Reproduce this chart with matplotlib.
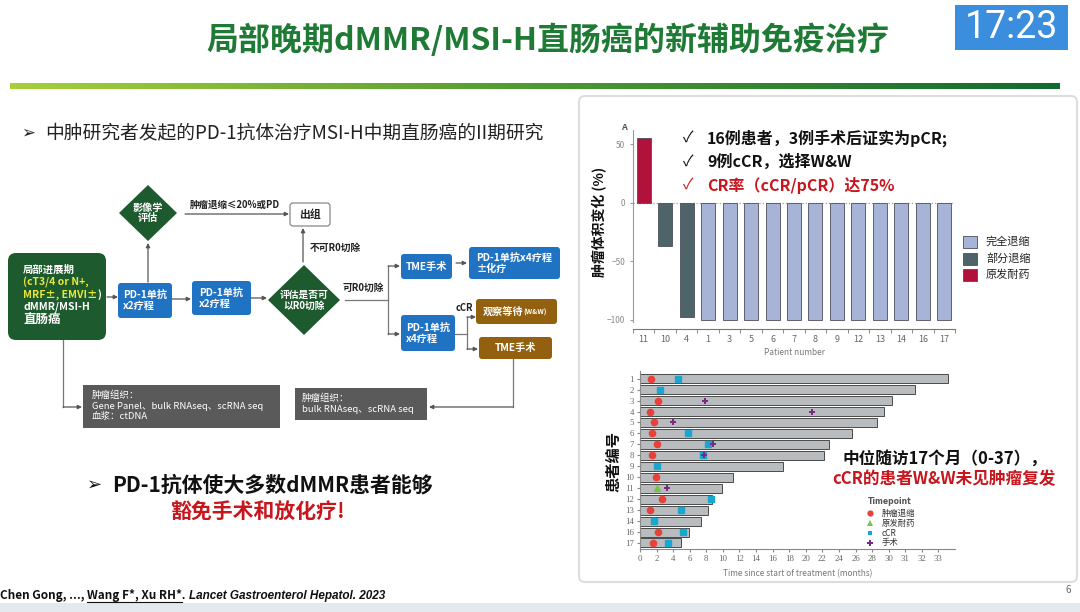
import numpy as np
import matplotlib
matplotlib.use('Agg')
import matplotlib.pyplot as plt
from matplotlib.patches import FancyBboxPatch, Polygon, Rectangle
from matplotlib.colors import LinearSegmentedColormap

plt.rcParams['font.family'] = ['Noto Sans CJK SC', 'DejaVu Sans']

# waterfall data (tumour volume change, %)
wf_patients = ['11', '10', '4', '1', '3', '5', '6', '7', '8', '9', '12', '13', '14', '16', '17']
wf_change = [55, -37, -98, -100, -100, -100, -100, -100, -100, -100, -100, -100, -100, -100, -100]
wf_group = ['原发耐药', '部分退缩', '部分退缩'] + ['完全退缩'] * 12
wf_legend = ['完全退缩', '部分退缩', '原发耐药']

# swimmer data (months)
sw_patients = ['1', '2', '3', '4', '5', '6', '7', '8', '9', '10', '11', '12', '13', '14', '16', '17']
sw_months = [33.6, 31.6, 30.2, 29.4, 28.6, 25.6, 22.8, 22.2, 17.2, 11.2, 9.9, 8.7, 8.2, 7.3, 5.9, 4.9]
shrink_patient = ['1', '3', '4', '5', '6', '7', '8', '10', '12', '13', '16', '17']
shrink_month = [1.3, 2.2, 1.2, 1.7, 1.5, 2.0, 1.4, 1.9, 2.7, 1.2, 2.2, 1.6]
resist_patient = ['11']
resist_month = [2.1]
ccr_patient = ['1', '2', '6', '7', '8', '9', '12', '13', '14', '16', '17']
ccr_month = [4.6, 2.4, 5.8, 8.2, 7.6, 2.1, 8.6, 5.0, 1.7, 5.2, 3.4]
surg_patient = ['3', '4', '5', '7', '8', '11']
surg_month = [7.8, 20.8, 4.0, 8.8, 7.7, 3.2]
sw_ticks = [0, 2, 4, 6, 8, 10, 12, 14, 16, 18, 20, 22, 24, 26, 28, 30, 31, 32, 33]

W, H = 1080, 612
fig = plt.figure(figsize=(10.8, 6.12), dpi=100)
ax = fig.add_axes([0, 0, 1, 1])

# gradient rule under the title
cmap = LinearSegmentedColormap.from_list('g', ['#A8CF3A', '#4E9A32', '#116B2E'])
ax.imshow(np.linspace(0, 1, 256)[None, :], cmap=cmap, extent=(10, 1060, 89, 83), aspect='auto')
ax.set_xlim(0, W)
ax.set_ylim(H, 0)
ax.axis('off')


def fpos(x0, y0, x1, y1):
    return [x0 / W, 1 - y1 / H, (x1 - x0) / W, (y1 - y0) / H]


def box(x0, y0, x1, y1, fc, ec=None, r=4, lw=0):
    ax.add_patch(FancyBboxPatch((x0, y0), x1 - x0, y1 - y0,
                                boxstyle='round,pad=0,rounding_size=%s' % r,
                                fc=fc, ec=ec if ec else fc, lw=lw))


def arrow(x0, y0, x1, y1):
    ax.annotate('', xy=(x1, y1), xytext=(x0, y0),
                arrowprops=dict(arrowstyle='-|>', color='#555555', lw=0.9,
                                mutation_scale=6, shrinkA=0, shrinkB=0))


def line(xs, ys):
    ax.plot(xs, ys, color='#777777', lw=0.9)


def chain(x, y, pieces, **kw):
    # place text pieces one after another on a line
    r = fig.canvas.get_renderer()
    for s, style in pieces:
        opts = dict(kw)
        opts.update(style)
        t = ax.text(x, y, s, va='center', ha='left', **opts)
        x += t.get_window_extent(r).width
    return x


# title
ax.text(548, 40, '局部晚期dMMR/MSI-H直肠癌的新辅助免疫治疗', fontsize=23, fontweight='bold',
        color='#1E7A35', ha='center', va='center')
ax.add_patch(Rectangle((955, 5), 113, 45, fc='#3A8EDD', ec='none'))
ax.text(1012, 28, '17:23', fontsize=27, color='white', ha='center', va='center',
        family=['Roboto', 'DejaVu Sans'])

# right panel
box(579, 96, 1077, 582, fc='white', ec='#DDDDDD', r=6, lw=1.5)

# left bullet
ax.text(21, 133, '➢', fontsize=12, color='#222222', va='center', family=['DejaVu Sans'])
ax.text(45, 133, '中肿研究者发起的PD-1抗体治疗MSI-H中期直肠癌的II期研究', fontsize=13.5,
        color='#222222', va='center')

# flowchart
GREEN, BLUE, BROWN, GRAY = '#1D5A2E', '#1F73C2', '#93600F', '#5A5A5A'
box(8, 253, 106, 340, GREEN, r=8)
ax.text(23, 270, '局部进展期', fontsize=7.5, color='white', fontweight='bold', va='center')
ax.text(23, 282, '(cT3/4 or N+,', fontsize=7.5, color='#E8E83A', fontweight='bold', va='center')
chain(23, 295, [('MRF±, EMVI±', dict(color='#E8E83A')), (')', dict(color='white'))],
      fontsize=7.5, fontweight='bold')
ax.text(23, 307, 'dMMR/MSI-H', fontsize=7.5, color='white', fontweight='bold', va='center')
ax.text(23, 320, '直肠癌', fontsize=9, color='white', fontweight='bold', va='center')

box(118, 283, 172, 318, BLUE, r=3)
ax.text(145, 300, 'PD-1单抗\nx2疗程', fontsize=7.3, color='white', fontweight='bold',
        ha='center', va='center', multialignment='left', linespacing=1.15)
box(192, 281, 251, 315, BLUE, r=3)
ax.text(221, 298, 'PD-1单抗\nx2疗程', fontsize=7.3, color='white', fontweight='bold',
        ha='center', va='center', multialignment='left', linespacing=1.15)
arrow(107, 297, 118, 297)
arrow(172, 299, 191, 299)
arrow(251, 298, 267, 298)

ax.add_patch(Polygon([(148, 185), (177, 213), (148, 241), (119, 213)], fc=GREEN, ec='none'))
ax.text(148, 213, '影像学\n评估', fontsize=7.3, color='white', fontweight='bold',
        ha='center', va='center', linespacing=1.1)
arrow(148, 282, 148, 243)
arrow(185, 214, 289, 214)
ax.text(190, 205, '肿瘤退缩≤20%或PD', fontsize=6.8, fontweight='bold', color='#222222', va='center')
box(290, 203, 330, 226, 'white', ec='#888888', r=3, lw=0.9)
ax.text(310, 214.5, '出组', fontsize=7.8, fontweight='bold', color='#222222', ha='center', va='center')

ax.add_patch(Polygon([(304, 265), (340, 300), (304, 335), (268, 300)], fc=GREEN, ec='none'))
ax.text(304, 300, '评估是否可\n以R0切除', fontsize=7, color='white', fontweight='bold',
        ha='center', va='center', linespacing=1.1)
arrow(303, 262, 303, 228)
ax.text(310, 248, '不可R0切除', fontsize=7, fontweight='bold', color='#222222', va='center')
line([345, 388], [300, 300])
line([388, 388], [266, 334])
ax.text(343, 288, '可R0切除', fontsize=7, fontweight='bold', color='#222222', va='center')
arrow(388, 266, 400, 266)
arrow(388, 334, 400, 334)

box(401, 254, 452, 279, BLUE, r=3)
ax.text(426.5, 266.5, 'TME手术', fontsize=7.3, color='white', fontweight='bold', ha='center', va='center')
arrow(456, 263, 467, 263)
box(469, 247, 560, 279, BLUE, r=3)
ax.text(514, 263, 'PD-1单抗x4疗程\n±化疗', fontsize=7.3, color='white', fontweight='bold',
        ha='center', va='center', multialignment='left', linespacing=1.15)
box(401, 315, 455, 351, BLUE, r=3)
ax.text(428, 333, 'PD-1单抗\nx4疗程', fontsize=7.3, color='white', fontweight='bold',
        ha='center', va='center', multialignment='left', linespacing=1.15)
line([455, 467], [334, 334])
line([467, 467], [317, 349])
arrow(467, 317, 476, 317)
arrow(467, 349, 478, 349)
ax.text(456, 308, 'cCR', fontsize=6.8, fontweight='bold', color='#222222', va='center')
box(476, 299, 557, 324, BROWN, r=3)
chain(483, 312, [('观察等待', dict(fontsize=7.3)), ('(W&W)', dict(fontsize=5))],
      color='white', fontweight='bold')
box(479, 337, 552, 359, BROWN, r=3)
ax.text(515.5, 348, 'TME手术', fontsize=7.3, color='white', fontweight='bold', ha='center', va='center')

line([513, 513], [359, 407])
arrow(513, 407, 429, 407)
ax.add_patch(Rectangle((295, 388), 132, 32, fc=GRAY, ec='none'))
ax.text(302, 404, '肿瘤组织：\nbulk RNAseq、scRNA seq', fontsize=6.8, color='white',
        va='center', linespacing=1.25)
line([63, 63], [340, 407])
arrow(63, 407, 82, 407)
ax.add_patch(Rectangle((83, 385), 197, 43, fc=GRAY, ec='none'))
ax.text(92, 406, '肿瘤组织：\nGene Panel、bulk RNAseq、scRNA seq\n血浆：ctDNA', fontsize=6.8,
        color='white', va='center', linespacing=1.25)

# bottom key message
ax.text(87, 485, '➢', fontsize=13, color='#111111', va='center', family=['DejaVu Sans'])
ax.text(112, 485, 'PD-1抗体使大多数dMMR患者能够', fontsize=15, fontweight='bold',
        color='#111111', va='center')
ax.text(258, 512, '豁免手术和放化疗!', fontsize=15, fontweight='bold', color='#C8161D',
        ha='center', va='center')

# citation
cx = chain(0, 596, [('Chen Gong, ..., ', {})], fontsize=8.5, fontweight='bold', color='#111111')
ux = chain(cx, 596, [('Wang F*, Xu RH*', {})], fontsize=8.5, fontweight='bold', color='#111111')
ax.plot([cx, ux], [602, 602], color='#111111', lw=0.8)
chain(ux, 596, [('. ', {}), ('Lancet Gastroenterol Hepatol. 2023', dict(fontstyle='italic'))],
      fontsize=8.5, fontweight='bold', color='#111111', family=['Liberation Sans', 'DejaVu Sans'])
ax.add_patch(Rectangle((0, 603), W, 9, fc='#E4E9EF', ec='none'))
ax.text(1068, 590, '6', fontsize=7, color='#666666', ha='center', va='center')

# waterfall chart
wf_colors = {'完全退缩': '#A8B3D8', '部分退缩': '#4E6468', '原发耐药': '#B0123C'}
ax1 = fig.add_axes(fpos(633, 130, 955, 322))
ax1.set_facecolor('none')
ax1.bar(range(len(wf_patients)), wf_change, width=0.65,
        color=[wf_colors[g] for g in wf_group], edgecolor='#4A4F5A', lw=0.6, zorder=2)
ax1.axhline(0, ls=':', color='#9A9A9A', lw=0.9, zorder=1)
ax1.set_xlim(-0.5, len(wf_patients) - 0.5)
ax1.set_ylim(-102, 62)
ax1.set_yticks([50, 0, -50, -100])
ax1.set_xticks(range(len(wf_patients)))
ax1.set_xticklabels(wf_patients, family=['Liberation Serif', 'DejaVu Serif'])
ax1.set_xticks(np.arange(-0.5, len(wf_patients)), minor=True)
ax1.tick_params(axis='x', which='major', length=0, labelsize=6.5, labelcolor='#666666', pad=4)
ax1.tick_params(axis='x', which='minor', length=3, color='#777777', direction='out')
ax1.tick_params(axis='y', labelsize=6, labelcolor='#888888', length=2, color='#999999')
for s in ['top', 'right']:
    ax1.spines[s].set_visible(False)
ax1.spines['left'].set_color('#999999')
ax1.spines['bottom'].set_color('#777777')
ax1.spines['bottom'].set_position(('outward', 5))
ax1.set_xlabel('Patient number', fontsize=6, color='#777777', labelpad=3)
ax.text(600, 222, '肿瘤体积变化 (%)', fontsize=10, fontweight='bold', rotation=90,
        ha='center', va='center', color='#111111')
ax.text(624, 127, 'A', fontsize=6.5, fontweight='bold', color='#555555', ha='center', va='center')
for i, g in enumerate(wf_legend):
    y = 242 + i * 16.5
    ax.add_patch(Rectangle((963, y - 6), 14, 12, fc=wf_colors[g], ec='#4A4F5A', lw=0.6))
    ax.text(986, y, g, fontsize=8, color='#222222', va='center')

fig.text(683 / W, 1 - 138 / H, '✓', fontsize=11, color='#111111', va='center')
fig.text(707 / W, 1 - 138 / H, '16例患者，3例手术后证实为pCR;', fontsize=11.5, fontweight='bold',
         color='#111111', va='center')
fig.text(683 / W, 1 - 162 / H, '✓', fontsize=11, color='#111111', va='center')
fig.text(707 / W, 1 - 162 / H, '9例cCR，选择W&W', fontsize=11.5, fontweight='bold',
         color='#111111', va='center')
fig.text(683 / W, 1 - 185 / H, '✓', fontsize=11, color='#C8161D', va='center')
fig.text(707 / W, 1 - 185 / H, 'CR率（cCR/pCR）达75%', fontsize=11.5, fontweight='bold',
         color='#C8161D', va='center')


# swimmer plot with a broken time scale (1 unit per month above 30)
def fwd(x):
    x = np.asarray(x, dtype=float)
    return np.where(x <= 30, x / 2.0, 15 + (x - 30))


def inv(y):
    y = np.asarray(y, dtype=float)
    return np.where(y <= 15, y * 2.0, 30 + (y - 15))


ax2 = fig.add_axes(fpos(640, 371, 955, 549))
ax2.set_facecolor('none')
ax2.set_xscale('function', functions=(fwd, inv))
rows = {p: i for i, p in enumerate(sw_patients)}
ax2.barh(range(len(sw_patients)), sw_months, height=0.82, color='#B9BCBF',
         edgecolor='#4A4A4A', lw=0.7, zorder=1)
ax2.plot(shrink_month, [rows[p] for p in shrink_patient], 'o', color='#E8413A', ms=4.5, zorder=3)
ax2.plot(resist_month, [rows[p] for p in resist_patient], '^', color='#7DBF4A', ms=4, zorder=3)
ax2.plot(ccr_month, [rows[p] for p in ccr_patient], 's', color='#1AA7CF', ms=4, zorder=3)
ax2.plot(surg_month, [rows[p] for p in surg_patient], 'P', color='#7A2A82', ms=4.5, zorder=4,
         markeredgewidth=0)
ax2.set_xlim(0, 34)
ax2.set_ylim(len(sw_patients) - 0.45, -0.7)
ax2.set_yticks(range(len(sw_patients)))
ax2.set_yticklabels(sw_patients, family=['Liberation Serif', 'DejaVu Serif'])
ax2.set_xticks(sw_ticks)
ax2.set_xticklabels([str(t) for t in sw_ticks], family=['Liberation Serif', 'DejaVu Serif'])
ax2.minorticks_off()
ax2.tick_params(labelsize=6.3, labelcolor='#666666', length=2.5, color='#888888', pad=2)
for s in ['top', 'right']:
    ax2.spines[s].set_visible(False)
ax2.spines['left'].set_color('#888888')
ax2.spines['bottom'].set_color('#888888')
ax2.set_xlabel('Time since start of treatment (months)', fontsize=6, color='#777777', labelpad=4)
ax.text(613, 462, '患者编号', fontsize=11, fontweight='bold', rotation=90,
        ha='center', va='center', color='#111111')

ax.text(868, 501, 'Timepoint', fontsize=5.5, fontweight='bold', color='#555555', va='center',
        family=['DejaVu Sans'])
leg = [('o', '#E8413A', '肿瘤退缩', 4.5), ('^', '#7DBF4A', '原发耐药', 4),
       ('s', '#1AA7CF', 'cCR', 3.5), ('P', '#7A2A82', '手术', 4.5)]
for i, (m, c, lab, ms) in enumerate(leg):
    y = 513 + i * 10
    ax.plot([870], [y], m, color=c, ms=ms, markeredgewidth=0)
    ax.text(882, y, lab, fontsize=6, color='#333333', va='center')

fig.text(843 / W, 1 - 460 / H, '中位随访17个月（0-37），', fontsize=12, fontweight='bold',
         color='#111111', va='center')
fig.text(832 / W, 1 - 479 / H, 'cCR的患者W&W未见肿瘤复发', fontsize=12, fontweight='bold',
         color='#C8161D', va='center')

fig.savefig('out.png', dpi=100)
